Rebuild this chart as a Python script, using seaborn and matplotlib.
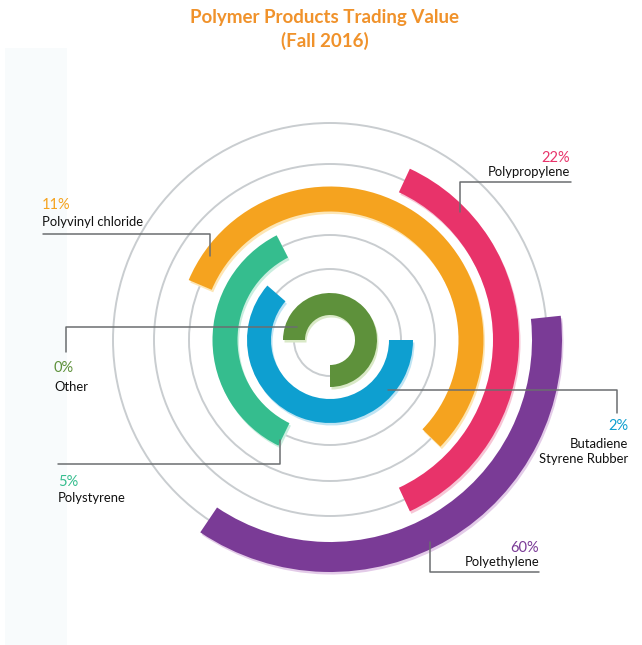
import numpy as np
import seaborn as sns
import matplotlib.pyplot as plt
from matplotlib.patches import Wedge, Circle, Rectangle

# data (inner ring -> outer ring)
materials = ["Other", "Butadiene\nStyrene Rubber", "Polystyrene",
             "Polyvinyl chloride", "Polypropylene", "Polyethylene"]
shares = ["0%", "2%", "5%", "11%", "22%", "60%"]
# arc extent of each ring, degrees counter-clockwise from east
arc_from = [-90, 139, 117, -44, -65, 236]
arc_to = [180, 360, 244, 157, 65, 366]

colors = sns.color_palette(["#5e913b", "#0e9fd0", "#35bd8e",
                            "#f5a31f", "#e8336a", "#7a3b96"])
shadows = ["#d9e9c6", "#bfe4f3", "#c9eedf", "#fde6b5", "#f7c5d5", "#e3cbe8"]

ring_r = [36, 71, 105, 141, 176, 217]
ring_w = [22, 24, 25, 25, 26, 30]

sns.set_theme(style="white")
plt.rcParams['font.family'] = ['Lato', 'DejaVu Sans']

fig = plt.figure(figsize=(6.42, 6.45), dpi=100)
ax = fig.add_axes([0, 0, 1, 1])
ax.set_xlim(-330, 312)
ax.set_ylim(-305, 340)
ax.axis('off')


def px(x, y):
    """image pixel -> data coords (center of rings at 330,340)"""
    return x - 330, 340 - y


# faint side panel
ax.add_patch(Rectangle(px(5, 645), 62, 597, color="#f8fbfc", lw=0, zorder=0))

# grey guide circles
for r in ring_r:
    ax.add_patch(Circle((0, 0), r, fill=False, ec="#c9cdd0", lw=1.4, zorder=1))

# ring bars with soft shadow
for i in range(len(materials)):
    ro = ring_r[i] + ring_w[i] / 2
    ax.add_patch(Wedge((1.5, -2.5), ro, arc_from[i], arc_to[i],
                       width=ring_w[i], color=shadows[i], lw=0, zorder=2))
    ax.add_patch(Wedge((0, 0), ro, arc_from[i], arc_to[i],
                       width=ring_w[i], color=colors[i], lw=0, zorder=3))

# leader lines (image pixel paths)
leaders = [
    [(66, 352), (66, 327), (297, 327)],
    [(388, 390), (617, 390), (617, 413)],
    [(58, 464), (280, 464), (280, 440)],
    [(43, 234), (210, 234), (210, 256)],
    [(571, 182), (460, 182), (460, 212)],
    [(430, 542), (430, 572), (539, 572)],
]
for pts in leaders:
    xs, ys = zip(*[px(*p) for p in pts])
    ax.plot(xs, ys, color="#6b6e70", lw=1.1, zorder=4)

# labels: (x, pct baseline, name last-line baseline, align)
label_pos = [
    (54, 372, 391, 'left'),
    (628, 430, 463, 'right'),
    (58, 486, 502, 'left'),
    (42, 209, 226, 'left'),
    (570, 162, 176, 'right'),
    (539, 552, 566, 'right'),
]
for i, (x, yp, yn, ha) in enumerate(label_pos):
    ax.text(*px(x, yp), shares[i], color=colors[i], fontsize=10.5,
            ha=ha, va='baseline')
    ax.text(*px(x, yn), materials[i], color="#111111", fontsize=9.4,
            ha=ha, va='baseline', linespacing=1.25)

ax.text(*px(325, 23), "Polymer Products Trading Value", color="#f0922b",
        fontsize=13.5, fontweight='bold', ha='center', va='baseline')
ax.text(*px(325, 47), "(Fall 2016)", color="#f0922b",
        fontsize=13.5, fontweight='bold', ha='center', va='baseline')

fig.savefig("out.png", dpi=100)
